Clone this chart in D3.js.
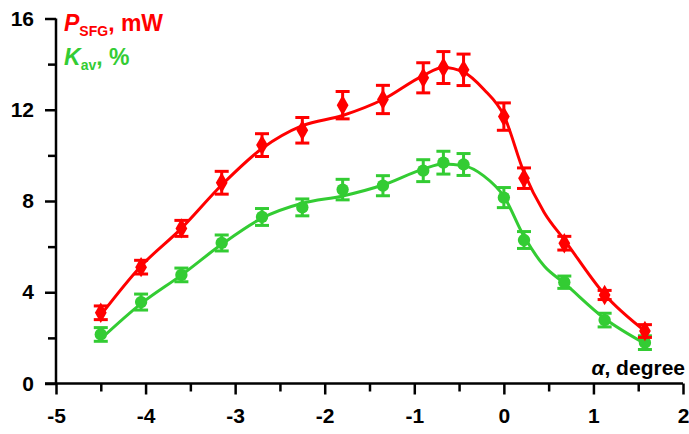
<!DOCTYPE html>
<html>
<head>
<meta charset="utf-8">
<script src="https://cdn.jsdelivr.net/npm/d3@7"></script>
<style>
  html, body { margin: 0; padding: 0; background: #fff; }
  svg text { font-family: "Liberation Sans", Arial, sans-serif; font-weight: bold; }
</style>
</head>
<body>
<div id="chart"></div>
<script>
// angle values (degree)
var alpha = [-4.5, -4.05, -3.6, -3.15, -2.7, -2.25, -1.8, -1.35, -0.9, -0.675, -0.45, 0, 0.225, 0.675, 1.125, 1.575]
// P_SFG, mW
var pSfg = [3.1, 5.1, 6.8, 8.8, 10.45, 11.1, 12.2, 12.45, 13.4, 13.85, 13.75, 11.7, 9.0, 6.15, 3.88, 2.3]
var pErr = [0.3, 0.3, 0.35, 0.5, 0.5, 0.56, 0.6, 0.62, 0.66, 0.7, 0.69, 0.6, 0.45, 0.3, 0.2, 0.28]
// K_av, %
var kAv = [2.15, 3.57, 4.76, 6.16, 7.3, 7.72, 8.5, 8.67, 9.33, 9.68, 9.6, 8.15, 6.29, 4.44, 2.78, 1.79]
var kErr = [0.3, 0.35, 0.3, 0.35, 0.37, 0.37, 0.45, 0.44, 0.48, 0.5, 0.48, 0.44, 0.37, 0.27, 0.3, 0.3]
// fitted curves
var fitAlpha = [-4.5, -4.05, -3.6, -3.15, -2.7, -2.25, -1.8, -1.35, -0.9, -0.675, -0.45, -0.225, 0, 0.225, 0.45, 0.675, 1.125, 1.575]
var pFit = [3.0, 5.15, 6.8, 8.7, 10.3, 11.3, 11.75, 12.45, 13.5, 13.85, 13.65, 12.9, 11.75, 9.25, 7.5, 6.3, 3.9, 2.3]
var kFit = [1.95, 3.5, 4.75, 6.1, 7.25, 7.9, 8.22, 8.7, 9.4, 9.62, 9.55, 9.1, 8.2, 6.45, 5.15, 4.4, 2.85, 1.75]

var xTicks = [-5, -4, -3, -2, -1, 0, 1, 2]
var xMinor = [-4.5, -3.5, -2.5, -1.5, -0.5, 0.5, 1.5]
var yTicks = [0, 4, 8, 12, 16]
var yMinor = [2, 6, 10, 14]

var width = 689, height = 434
var red = "#ff0000", green = "#33cc33"

var svg = d3.select("#chart").append("svg")
    .attr("width", width)
    .attr("height", height)

var x = d3.scaleLinear().domain([-5, 2]).range([56, 683])
var y = d3.scaleLinear().domain([0, 16]).range([383.5, 18.5])

// axes (plain hyphen for negatives, like the original)
var fmt = function (d) { return String(d) }
var xAxis = svg.append("g")
    .attr("transform", "translate(0," + y(0) + ")")
    .call(d3.axisBottom(x).tickValues(xTicks).tickSize(11).tickPadding(14).tickFormat(fmt))
xAxis.append("g")
    .call(d3.axisBottom(x).tickValues(xMinor).tickSize(8).tickFormat(""))
    .select(".domain").remove()

var yAxis = svg.append("g")
    .attr("transform", "translate(" + x(-5) + ",0)")
    .call(d3.axisLeft(y).tickValues(yTicks).tickSize(11).tickPadding(11).tickFormat(fmt))
yAxis.append("g")
    .call(d3.axisLeft(y).tickValues(yMinor).tickSize(8).tickFormat(""))
    .select(".domain").remove()

svg.selectAll(".domain")
    .attr("stroke", "#000")
    .attr("stroke-width", 2.5)
svg.selectAll(".tick line")
    .attr("stroke", "#000")
    .attr("stroke-width", 2.5)
svg.selectAll(".tick text")
    .attr("font-size", 21)
    .attr("fill", "#000")
xAxis.select(".domain").attr("d", "M" + (x(-5) - 11) + ",0H" + x(2))
yAxis.select(".domain").attr("d", "M0," + y(16) + "V" + y(0))

// one series: fit curve, error bars, markers
function drawSeries(vals, errs, fit, color, diamond) {
    var pts = alpha.map(function (a, i) {
        return { a: a, v: vals[i], e: errs[i] }
    })
    var fpts = fitAlpha.map(function (a, i) {
        return { a: a, f: fit[i] }
    })
    var g = svg.append("g")

    g.append("path")
        .datum(fpts)
        .attr("fill", "none")
        .attr("stroke", color)
        .attr("stroke-width", 3)
        .attr("d", d3.line()
            .x(d => x(d.a))
            .y(d => y(d.f))
            .curve(d3.curveMonotoneX))

    var eb = g.selectAll(".eb").data(pts).enter().append("g")
    eb.append("line")
        .attr("x1", d => x(d.a)).attr("x2", d => x(d.a))
        .attr("y1", d => y(d.v - d.e)).attr("y2", d => y(d.v + d.e))
        .attr("stroke", color).attr("stroke-width", 3)
    eb.append("line")
        .attr("x1", d => x(d.a) - 7).attr("x2", d => x(d.a) + 7)
        .attr("y1", d => y(d.v + d.e)).attr("y2", d => y(d.v + d.e))
        .attr("stroke", color).attr("stroke-width", 3)
    eb.append("line")
        .attr("x1", d => x(d.a) - 7).attr("x2", d => x(d.a) + 7)
        .attr("y1", d => y(d.v - d.e)).attr("y2", d => y(d.v - d.e))
        .attr("stroke", color).attr("stroke-width", 3)

    var sym = diamond ? d3.symbol().type(d3.symbolDiamond).size(120)
                      : d3.symbol().type(d3.symbolCircle).size(120)
    g.selectAll(".mk").data(pts).enter().append("path")
        .attr("transform", d => "translate(" + x(d.a) + "," + y(d.v) + ")")
        .attr("d", sym)
        .attr("fill", color)
}

drawSeries(kAv, kErr, kFit, green, false)
drawSeries(pSfg, pErr, pFit, red, true)

// legend labels
var t1 = svg.append("text").attr("x", 64).attr("y", 31).attr("fill", red).attr("font-size", 23)
t1.append("tspan").attr("font-style", "italic").text("P")
t1.append("tspan").attr("font-size", 14).attr("dy", 5).text("SFG")
t1.append("tspan").attr("dy", -5).text(", mW")

var t2 = svg.append("text").attr("x", 64).attr("y", 65).attr("fill", green).attr("font-size", 23)
t2.append("tspan").attr("font-style", "italic").text("K")
t2.append("tspan").attr("font-size", 14).attr("dy", 5).text("av")
t2.append("tspan").attr("dy", -5).text(", %")

// x axis title
var t3 = svg.append("text").attr("x", 685).attr("y", 375).attr("text-anchor", "end")
    .attr("fill", "#000").attr("font-size", 21)
t3.append("tspan").attr("font-style", "italic").text("α")
t3.append("tspan").text(", degree")
</script>
</body>
</html>
